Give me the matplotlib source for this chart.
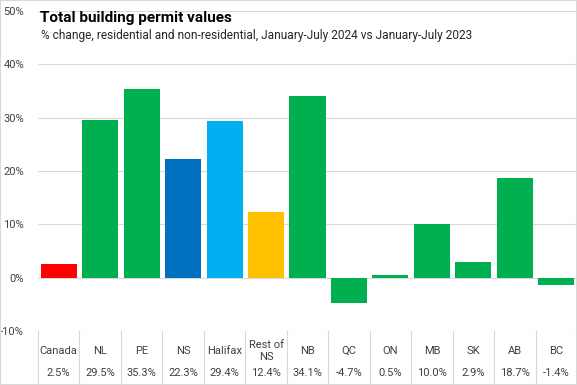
import matplotlib.pyplot as plt
from matplotlib.transforms import blended_transform_factory
import numpy as np

plt.rcParams['font.family'] = ['Roboto', 'DejaVu Sans']

regions = ['Canada', 'NL', 'PE', 'NS', 'Halifax', 'Rest of\nNS', 'NB', 'QC', 'ON', 'MB', 'SK', 'AB', 'BC']
values = [2.5, 29.5, 35.3, 22.3, 29.4, 12.4, 34.1, -4.7, 0.5, 10.0, 2.9, 18.7, -1.4]
colors = ['#FF0000', '#00B050', '#00B050', '#0070C0', '#00B0F0', '#FFC000', '#00B050',
          '#00B050', '#00B050', '#00B050', '#00B050', '#00B050', '#00B050']
yticks = [-10, 0, 10, 20, 30, 40, 50]

fig = plt.figure(figsize=(5.77, 3.85), dpi=100)
ax = fig.add_axes([38 / 577, 54 / 385, 1 - 38 / 577, (331 - 11) / 385])

x = np.arange(len(values))
ax.bar(x, values, width=0.87, color=colors, zorder=3)
ax.set_xlim(-0.5, len(values) - 0.5)
ax.set_ylim(-10, 50)
ax.set_yticks(yticks)
ax.set_yticklabels([f'{t}%' for t in yticks], fontsize=8, color='#404040')
ax.tick_params(axis='y', length=0, pad=10)
ax.set_xticks([])
ax.grid(axis='y', color='#D9D9D9', lw=0.8, zorder=0)
for s in ax.spines.values():
    s.set_visible(False)

# data table under the chart
tr = blended_transform_factory(ax.transData, fig.transFigure)
for i, (r, v) in enumerate(zip(regions, values)):
    ax.text(i, 1 - 351 / 385, r, transform=tr, ha='center', va='center',
            fontsize=8, color='#404040', linespacing=1.3)
    ax.text(i, 1 - 373 / 385, f'{v:.1f}%', transform=tr, ha='center', va='center',
            fontsize=8, color='#404040')
for b in np.arange(-0.5, len(values), 1.0):
    ax.plot([b, b], [54 / 385, 0], transform=tr, color='#D9D9D9', lw=0.8, clip_on=False)

fig.text(40 / 577, 1 - 18 / 385, 'Total building permit values', fontsize=11,
         fontweight='bold', va='center', ha='left', color='black')
fig.text(41 / 577, 1 - 36 / 385,
         '% change, residential and non-residential, January-July 2024 vs January-July 2023',
         fontsize=8.55, va='center', ha='left', color='#262626')

fig.patches.append(plt.Rectangle((0, 0), 1, 1, transform=fig.transFigure, fill=False,
                                 edgecolor='#D9D9D9', lw=1.5))

fig.savefig('out.png', dpi=100)
